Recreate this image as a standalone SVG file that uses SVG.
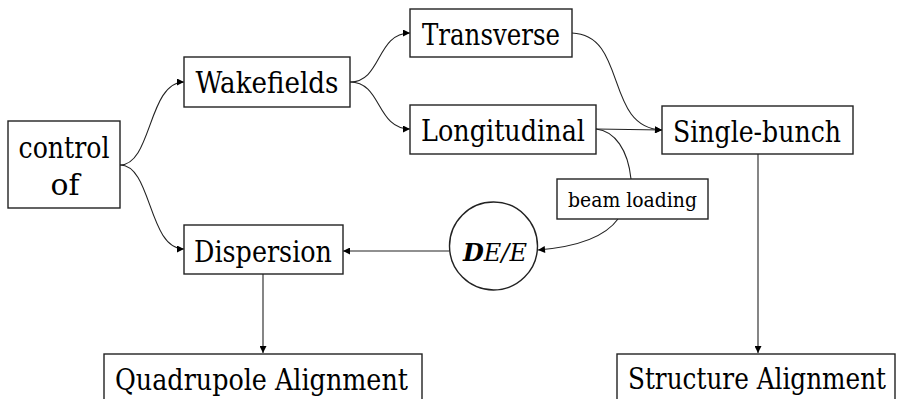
<svg xmlns="http://www.w3.org/2000/svg" width="897" height="399" viewBox="0 0 897 399">
<defs>
<marker id="ah" viewBox="0 0 10 10" refX="10" refY="5" markerWidth="9" markerHeight="7" markerUnits="userSpaceOnUse" orient="auto">
<path d="M0,0 L10,5 L0,10 z" fill="#000"/>
</marker>
<style>
.box{fill:#fff;stroke:#222;stroke-width:1.4}
text{font-family:'DejaVu Serif','Liberation Serif',serif}
.t{font-size:29.5px;fill:#000;text-anchor:middle}
.s{font-size:21px}
.c{fill:none;stroke:#222;stroke-width:1.1;marker-end:url(#ah)}
.cn{fill:none;stroke:#222;stroke-width:1.1}
</style>
</defs>
<rect width="897" height="399" fill="#fff"/>
<g id="connectors">
<path class="c" d="M120,165 C152,165 148,82 184,82"/>
<path class="c" d="M120,165 C152,165 148,249 184,249"/>
<path class="c" d="M350,82 C382,82 376,33 410,33"/>
<path class="c" d="M350,82 C382,82 376,129 410,129"/>
<path class="c" d="M572,33 C628,35 604,128 662,130"/>
<path class="c" d="M596,129 L662,130"/>
<path class="cn" d="M596,129 C615,131 628,150 631,179"/>
<path class="c" d="M618,219 C605,237 575,247 538,250"/>
<path class="c" d="M449,251 L343,251"/>
<path class="c" d="M263,274 L263,353"/>
<path class="c" d="M758,154 L758,353"/>
</g>
<g id="control">
<rect class="box" x="8" y="121" width="112" height="87"/>
<text class="t" x="64" y="158" textLength="91" lengthAdjust="spacingAndGlyphs">control</text>
<text class="t" x="65" y="195" textLength="29" lengthAdjust="spacingAndGlyphs">of</text>
</g>
<g id="wakefields">
<rect class="box" x="184" y="57" width="166" height="50"/>
<text class="t" x="267" y="93" textLength="143" lengthAdjust="spacingAndGlyphs">Wakefields</text>
</g>
<g id="transverse">
<rect class="box" x="410" y="9" width="162" height="48"/>
<text class="t" x="491" y="45" textLength="138" lengthAdjust="spacingAndGlyphs">Transverse</text>
</g>
<g id="longitudinal">
<rect class="box" x="410" y="105" width="186" height="49"/>
<text class="t" x="503" y="141" textLength="164" lengthAdjust="spacingAndGlyphs">Longitudinal</text>
</g>
<g id="singlebunch">
<rect class="box" x="662" y="106" width="191" height="48"/>
<text class="t" x="757" y="142" textLength="168" lengthAdjust="spacingAndGlyphs">Single-bunch</text>
</g>
<g id="beamloading">
<rect class="box" x="557" y="179" width="151" height="40"/>
<text class="t s" x="632.5" y="207" textLength="129" lengthAdjust="spacingAndGlyphs">beam loading</text>
</g>
<g id="dispersion">
<rect class="box" x="184" y="225" width="159" height="49"/>
<text class="t" x="263" y="262" textLength="138" lengthAdjust="spacingAndGlyphs">Dispersion</text>
</g>
<g id="dee">
<circle cx="493.5" cy="246" r="44" fill="#fff" stroke="#222" stroke-width="1.4"/>
<text class="t" x="495" y="261" style="font-size:24px;font-style:italic"><tspan font-weight="bold">D</tspan><tspan>E/E</tspan></text>
</g>
<g id="quadrupole">
<rect class="box" x="104" y="354" width="318" height="46"/>
<text class="t" x="261.5" y="390" textLength="293" lengthAdjust="spacingAndGlyphs">Quadrupole Alignment</text>
</g>
<g id="structure">
<rect class="box" x="617" y="354" width="278" height="46"/>
<text class="t" x="757" y="389" textLength="258" lengthAdjust="spacingAndGlyphs">Structure Alignment</text>
</g>
</svg>
